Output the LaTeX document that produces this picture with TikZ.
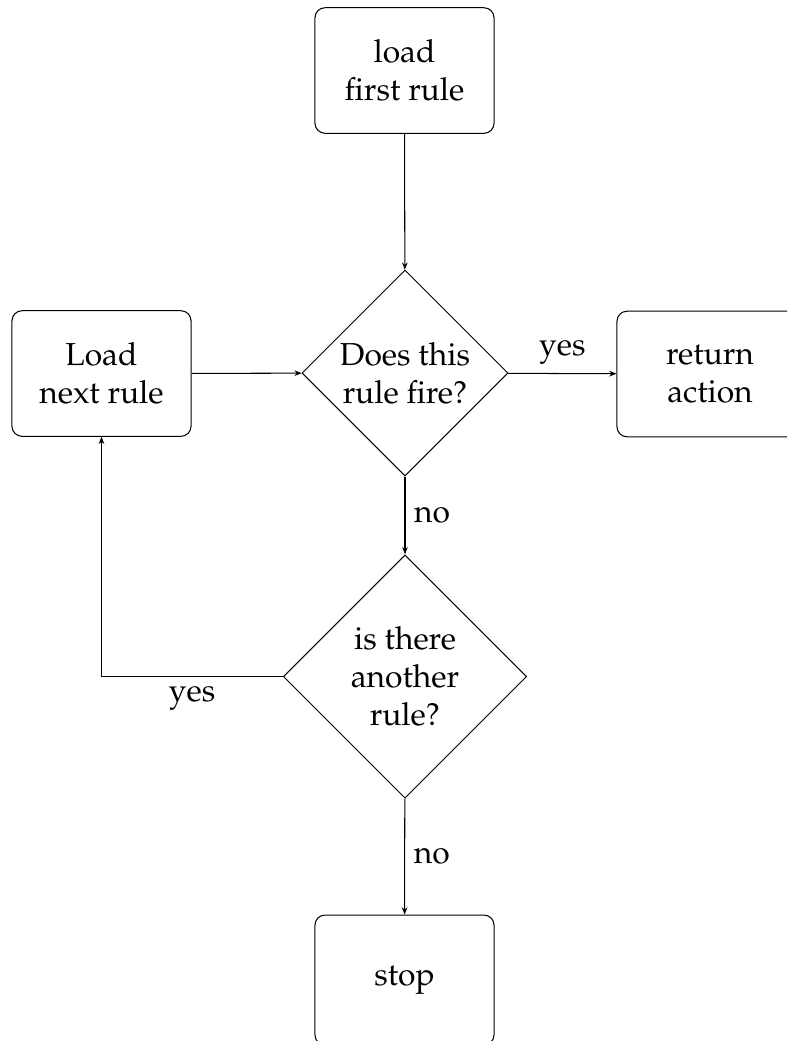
\documentclass[tikz,border=0pt]{standalone}
\usepackage[T1]{fontenc}
\usepackage{mathpazo}
\usetikzlibrary{shapes.geometric,arrows.meta}
\begin{document}
\begin{tikzpicture}[x=0.387pt,y=-0.387pt,
  every node/.style={font=\fontsize{12.3}{14.6}\selectfont},
  box/.style={draw,rounded corners=3.9pt,minimum width=69.3pt,minimum height=48.6pt,align=center,inner sep=0pt},
  dec/.style={draw,diamond,align=center,inner sep=0pt},
  conn/.style={-{Stealth[length=2.8pt,width=2.2pt]},line width=0.4pt}]
\useasboundingbox (0,0) rectangle (787,1041);
\clip (0,0) rectangle (787,1041);
\node[box] (A) at (404.5,70.5) {load\\first rule};
\node[dec,minimum width=79.7pt,minimum height=79.7pt] (D1) at (405,373) {Does this\\rule fire?};
\node[box] (L) at (101.5,373.5) {Load\\next rule};
\node[box,minimum width=72pt] (R) at (710,374) {return\\action};
\node[box,minimum height=50.3pt] (S) at (404.5,980) {stop};
\node[dec,minimum width=94.2pt,minimum height=94.2pt] (D2) at (405,676.5) {is there\\another\\rule?};
\draw[conn] (A) -- (D1);
\draw[conn] (L) -- (D1);
\draw[conn] (D1) -- node[above] {yes} (R);
\draw[conn] (D1) -- node[right] {no} (D2);
\draw[conn] (D2.west) -| node[pos=0.25,below] {yes} (L.south);
\draw[conn] (D2) -- node[right] {no} (S);
\end{tikzpicture}
\end{document}
